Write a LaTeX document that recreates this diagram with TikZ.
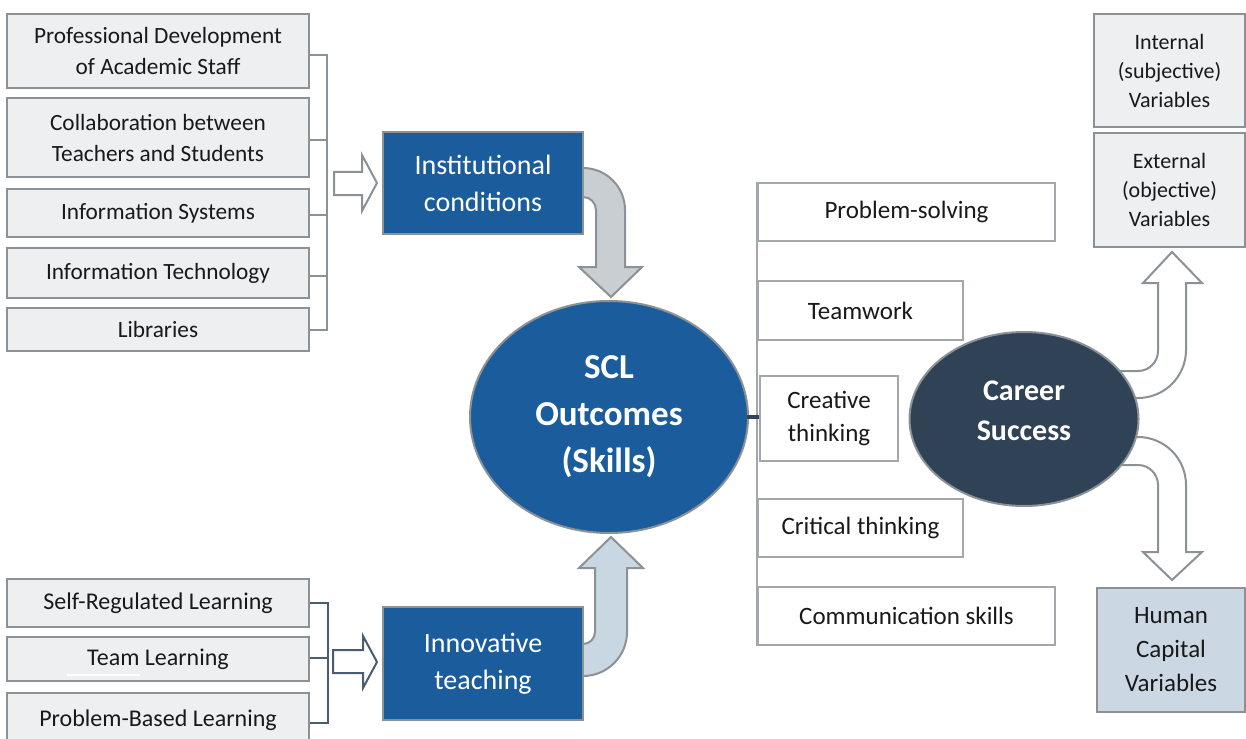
\documentclass[tikz,border=0pt]{standalone}
\usepackage{fontspec}
\setmainfont{Carlito}
\usetikzlibrary{shapes.geometric}
\definecolor{boxblue}{HTML}{1B5C9D}
\definecolor{navy}{HTML}{2F4256}
\definecolor{lightfill}{HTML}{EDEFF0}
\definecolor{boxgray}{HTML}{8C9196}
\definecolor{skillgray}{HTML}{A3A7AB}
\definecolor{arrgray}{HTML}{C9CED2}
\definecolor{arrblue}{HTML}{C9D7E2}
\definecolor{humanfill}{HTML}{CBD8E3}
\definecolor{slate}{HTML}{4A5C70}
\begin{document}
\begin{tikzpicture}[x=1pt,y=-1pt,
  lbox/.style={draw=boxgray, fill=lightfill, line width=2pt, inner sep=0pt, align=center,
    font=\fontsize{23.3}{31}\selectfont, text=black!90},
  sbox/.style={draw=skillgray, fill=white, line width=2pt, inner sep=0pt, align=center,
    font=\fontsize{25}{33}\selectfont, text=black!90},
  bluebox/.style={draw=boxgray, fill=boxblue, line width=2pt, inner sep=0pt, align=center,
    font=\fontsize{28}{37}\selectfont, text=white},
  vbox/.style={draw=boxgray, line width=2pt, inner sep=0pt, align=center, text=black!90},
  bracket/.style={draw=boxgray, line width=2pt},
  hollow/.style={draw=boxgray, fill=white, line width=2pt, line join=miter},
  bigellipse/.style={ellipse, draw=boxgray, line width=2pt, inner sep=0pt, align=center, text=white}
]
\useasboundingbox (0,0) rectangle (1246,738);
\fill[white] (0,0) rectangle (1246,738);

% ---------- top left boxes ----------
\node[lbox, minimum width=302pt, minimum height=74pt] (pd) at (158,51) {Professional Development\\of Academic Staff};
\node[lbox, minimum width=302pt, minimum height=79pt] (cb) at (158,137.5) {Collaboration between\\Teachers and Students};
\node[lbox, minimum width=302pt, minimum height=48pt] (is) at (158,213) {Information Systems};
\node[lbox, minimum width=302pt, minimum height=50pt] (it) at (158,273) {Information Technology};
\node[lbox, minimum width=302pt, minimum height=43pt] (lib) at (158,329.5) {Libraries};
\coordinate (brA) at (327,0);
\draw[bracket] ([yshift=-4pt]pd.east) -- ([yshift=-4pt]pd.east -| brA) -- (lib.east -| brA) -- (lib.east);
\draw[bracket] ([yshift=-3pt]cb.east) -- ([yshift=-3pt]cb.east -| brA);
\draw[bracket] ([yshift=-2pt]is.east) -- ([yshift=-2pt]is.east -| brA);
\draw[bracket] ([yshift=-3pt]it.east) -- ([yshift=-3pt]it.east -| brA);

% hollow arrow top
\draw[hollow] (334,172) -- (362,172) -- (362,155) -- (377,183) -- (362,211) -- (362,195) -- (334,195) -- cycle;

% ---------- bottom left boxes ----------
\node[lbox, minimum width=302pt, minimum height=48pt, font=\fontsize{24}{31}\selectfont] (srl) at (158,603) {Self-Regulated Learning};
\node[lbox, minimum width=302pt, minimum height=44pt, font=\fontsize{24}{31}\selectfont] (tl) at (158,659) {Team Learning};
\node[lbox, minimum width=302pt, minimum height=54pt, font=\fontsize{24}{31}\selectfont] (pbl) at (158,720) {Problem-Based Learning};
\draw[white, line width=2pt] (67,675) -- (140,675);
\coordinate (brB) at (328,0);
\draw[bracket, draw=slate] (srl.east) -- (srl.east -| brB) -- ([yshift=-3pt]pbl.east -| brB) -- ([yshift=-3pt]pbl.east);
\draw[bracket, draw=slate] ([yshift=1pt]tl.east) -- ([yshift=1pt]tl.east -| brB);
\draw[hollow, draw=slate] (333,650) -- (363,650) -- (363,636) -- (377,662) -- (363,688) -- (363,673) -- (333,673) -- cycle;

% ---------- curved arrows to SCL ----------
\draw[hollow, fill=arrgray] (578,168) -- (583,168) .. controls (606.2,168) and (625,186.8) .. (625,210)
  -- (625,267) -- (642,267) -- (611,297) -- (579,267) -- (596,267) -- (596,210)
  .. controls (596,202.8) and (590.2,197) .. (583,197) -- (578,197) -- cycle;
\draw[hollow, fill=arrblue] (578,676) -- (583,676) .. controls (607.3,676) and (627,656.3) .. (627,632)
  -- (627,568) -- (643,568) -- (611,537) -- (579,568) -- (595,568) -- (595,632)
  .. controls (595,638.6) and (589.6,644) .. (583,644) -- (578,644) -- cycle;

% ---------- blue boxes ----------
\node[bluebox, minimum width=200pt, minimum height=102pt] (inst) at (483,183) {Institutional\\conditions};
\node[bluebox, minimum width=200pt, minimum height=113pt] (innov) at (483,663.5) {Innovative\\teaching};

% ---------- SCL ellipse ----------
\node[bigellipse, fill=boxblue, minimum width=278pt, minimum height=232pt,
  font=\bfseries\fontsize{35}{47}\selectfont] (scl) at (609,417) {SCL\\Outcomes\\(Skills)};

% ---------- skills ----------
\node[sbox, minimum width=297pt, minimum height=58pt] (ps) at (906.5,212) {Problem-solving};
\node[sbox, minimum width=205pt, minimum height=59pt] (tw) at (860.5,310.5) {Teamwork};
\node[sbox, minimum width=138pt, minimum height=85pt] (ct) at (829,418.5) {Creative\\thinking};
\node[sbox, minimum width=205pt, minimum height=58pt] (crit) at (860.5,528) {Critical thinking};
\node[sbox, minimum width=297pt, minimum height=58pt] (cs) at (906.5,616) {Communication skills};
\draw[draw=skillgray, line width=2pt] (ps.north west) -- (cs.south west);
\coordinate (sk) at (759,419);
\draw[navy, line width=3.5pt] ([xshift=-2pt]scl.east) -- (scl.east -| sk);

% ---------- right arrows ----------
\draw[hollow] (1110,371) -- (1138,371) .. controls (1149,371) and (1158,362) .. (1158,351)
  -- (1158,283) -- (1143,283) -- (1172,252) -- (1202,283) -- (1186,283) -- (1186,350)
  .. controls (1186,376.5) and (1164.5,398) .. (1138,398) -- (1110,398) -- cycle;
\draw[hollow] (1110,437) -- (1138,437) .. controls (1164.5,437) and (1186,458.5) .. (1186,485)
  -- (1186,552) -- (1202,552) -- (1172,580) -- (1143,552) -- (1158,552) -- (1158,485)
  .. controls (1158,474) and (1149,465) .. (1138,465) -- (1110,465) -- cycle;

% ---------- career ellipse ----------
\node[bigellipse, fill=navy, minimum width=229pt, minimum height=174pt,
  label={[align=center, text=white, font=\bfseries\fontsize{30}{40}\selectfont, yshift=8pt]center:Career\\Success}] (career) at (1024,419) {};

% ---------- right boxes ----------
\node[vbox, fill=lightfill, minimum width=151pt, minimum height=113pt, font=\fontsize{22}{29}\selectfont] (intv) at (1169.5,70.5) {Internal\\(subjective)\\Variables};
\node[vbox, fill=lightfill, minimum width=151pt, minimum height=114pt, font=\fontsize{22}{29}\selectfont] (extv) at (1169.5,190) {External\\(objective)\\Variables};
\node[vbox, fill=humanfill, minimum width=148pt, minimum height=124pt, font=\fontsize{25}{34}\selectfont] (hcv) at (1171,650) {Human\\Capital\\Variables};
\end{tikzpicture}
\end{document}
